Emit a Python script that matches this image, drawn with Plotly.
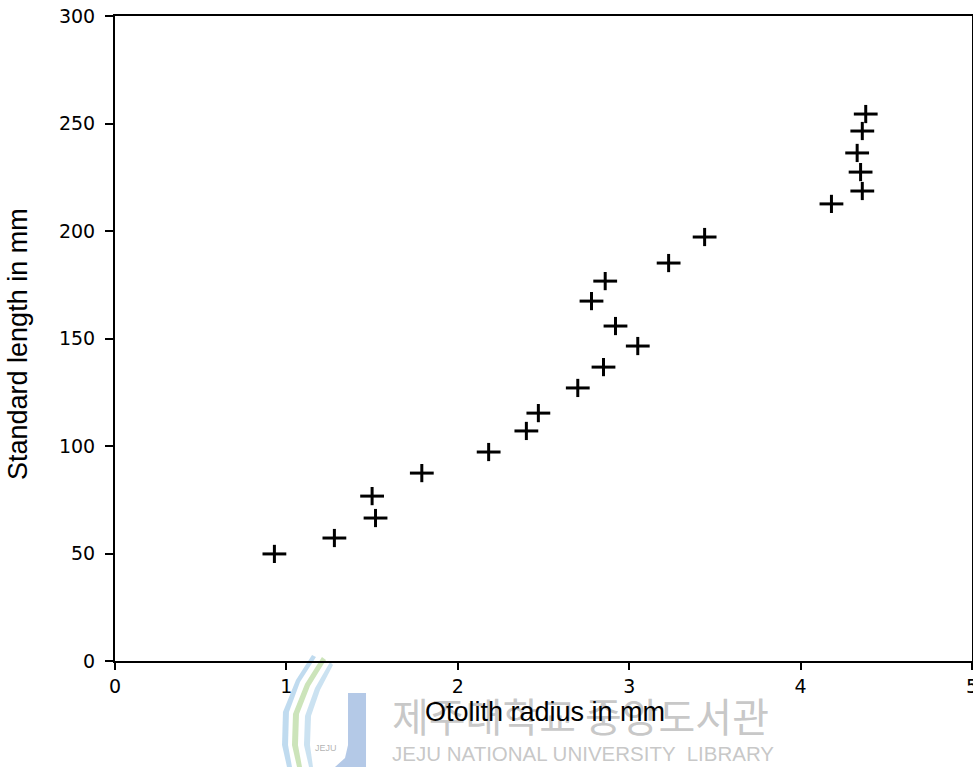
import plotly.graph_objects as go

# Otolith radius (mm) and standard length (mm) for each fish
otolith_radius = [0.93, 1.28, 1.50, 1.52, 1.79, 2.18, 2.40, 2.47, 2.70, 2.85,
                  3.05, 2.92, 2.78, 2.86, 3.23, 3.44, 4.18, 4.36, 4.35, 4.33,
                  4.36, 4.38]
standard_length = [49.8, 57.2, 76.7, 66.5, 87.4, 97.2, 107.0, 115.3, 127.0, 136.7,
                   146.5, 155.8, 167.4, 176.7, 185.1, 197.2, 212.6, 218.6, 227.4, 236.3,
                   246.5, 254.4]

x_ticks = [0, 1, 2, 3, 4, 5]
y_ticks = [0, 50, 100, 150, 200, 250, 300]

W, H = 973, 767
M_L, M_R, M_T, M_B = 115, 1, 16, 106
PW, PH = W - M_L - M_R, H - M_T - M_B


def px(x):
    """Page pixel column -> paper coordinate."""
    return (x - M_L) / PW


def py(y):
    """Page pixel row -> paper coordinate."""
    return (H - M_B - y) / PH


fig = go.Figure()

# Each "+" marker: a wide horizontal bar plus a shorter vertical bar
fig.add_trace(go.Scatter(
    x=otolith_radius, y=standard_length, mode="markers",
    marker=dict(symbol="line-ew", size=17, line=dict(color="black", width=3)),
    hoverinfo="x+y", showlegend=False,
))
fig.add_trace(go.Scatter(
    x=otolith_radius, y=standard_length, mode="markers",
    marker=dict(symbol="line-ns", size=13, line=dict(color="black", width=3)),
    hoverinfo="skip", showlegend=False,
))

# Library watermark (drawn first so the axis title sits on top)
wm_grey = "rgba(185,185,185,0.8)"
fig.add_annotation(
    xref="paper", yref="paper", x=px(580), y=py(715), xanchor="center", yanchor="middle",
    text="제주대학교 중앙도서관", showarrow=False,
    font=dict(family="Noto Sans CJK KR", size=40, color=wm_grey),
)
fig.add_annotation(
    xref="paper", yref="paper", x=px(583), y=py(753), xanchor="center", yanchor="middle",
    text="JEJU NATIONAL UNIVERSITY  LIBRARY", showarrow=False,
    font=dict(family="Liberation Sans", size=20.5, color=wm_grey),
)


def path(points, close=True):
    d = "M " + " L ".join(f"{px(a):.4f} {py(b):.4f}" for a, b in points)
    return d + (" Z" if close else "")


# Emblem: swooshes and a blue "J"
swooshes = [
    ([(312, 655), (296, 680), (283, 712), (282, 745), (287, 767), (292, 767),
      (288, 745), (289, 712), (300, 682), (316, 657)], "rgba(140,190,225,0.55)"),
    ([(322, 657), (305, 684), (293, 714), (292, 745), (297, 767), (302, 767),
      (298, 745), (299, 714), (310, 686), (326, 660)], "rgba(170,210,140,0.6)"),
    ([(330, 662), (315, 688), (305, 716), (304, 745), (309, 767), (313, 767),
      (310, 745), (311, 716), (320, 690), (333, 665)], "rgba(140,190,225,0.45)"),
]
for pts, col in swooshes:
    fig.add_shape(type="path", xref="paper", yref="paper", layer="below",
                  path=path(pts), fillcolor=col, line=dict(width=0))
fig.add_shape(type="path", xref="paper", yref="paper", layer="below",
              path=path([(348, 693), (366, 693), (366, 767), (335, 767),
                         (345, 758), (348, 745)]),
              fillcolor="rgba(130,165,215,0.6)", line=dict(width=0))
fig.add_annotation(
    xref="paper", yref="paper", x=px(326), y=py(748), xanchor="center", yanchor="middle",
    text="JEJU", showarrow=False,
    font=dict(family="Liberation Sans", size=9, color="rgba(160,160,160,0.8)"),
)

# Axis titles
fig.add_annotation(
    xref="paper", yref="paper", x=px(545), y=py(712), xanchor="center", yanchor="middle",
    text="Otolith radius in mm", showarrow=False,
    font=dict(family="Liberation Sans", size=27, color="black"),
)
fig.add_annotation(
    xref="paper", yref="paper", x=px(18), y=py(344), xanchor="center", yanchor="middle",
    text="Standard length in mm", textangle=-90, showarrow=False,
    font=dict(family="Liberation Sans", size=27, color="black"),
)

tick_font = dict(family="DejaVu Sans", size=19, color="black")

fig.update_layout(
    width=W, height=H,
    margin=dict(l=M_L, r=M_R, t=M_T, b=M_B, autoexpand=False),
    paper_bgcolor="white", plot_bgcolor="white",
    font=dict(family="Liberation Sans", color="black"),
    xaxis=dict(
        range=[0, 5], tickvals=x_ticks, ticktext=[str(v) for v in x_ticks],
        ticks="outside", ticklen=7, tickwidth=2, tickcolor="black",
        showline=True, linecolor="black", linewidth=2, mirror=True,
        showgrid=False, zeroline=False, ticklabeloverflow="allow",
        automargin=False, tickfont=tick_font,
    ),
    yaxis=dict(
        range=[0, 300], tickvals=y_ticks, ticktext=[str(v) for v in y_ticks],
        ticks="outside", ticklen=8, tickwidth=2, tickcolor="black",
        showline=True, linecolor="black", linewidth=2, mirror=True,
        showgrid=False, zeroline=False, ticklabelstandoff=6,
        automargin=False, tickfont=tick_font,
    ),
)

fig.write_html("out.html")
